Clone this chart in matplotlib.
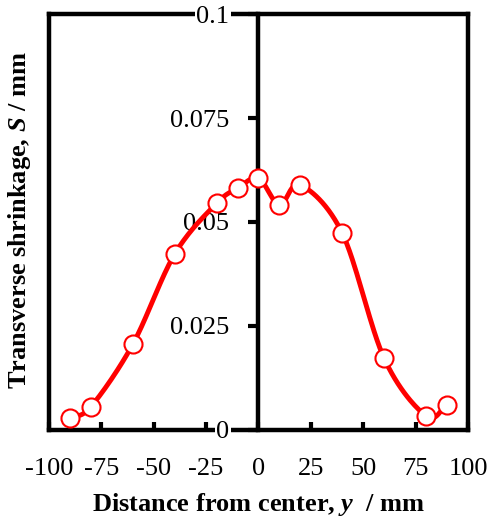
import numpy as np
import matplotlib
matplotlib.use("Agg")
import matplotlib.pyplot as plt
from matplotlib.ticker import MultipleLocator, FuncFormatter

plt.rcParams['font.family'] = 'Liberation Serif'
plt.rcParams['axes.unicode_minus'] = False
plt.rcParams['mathtext.fontset'] = 'custom'
plt.rcParams['mathtext.it'] = 'Liberation Serif:bold:italic'
plt.rcParams['mathtext.rm'] = 'Liberation Serif:bold'

# data
dist = [-90, -80, -60, -40, -20, -10, 0, 10, 20, 40, 60, 80, 90]
shrink = [0.0029, 0.0056, 0.0206, 0.0423, 0.0545, 0.0581, 0.0605,
          0.0541, 0.0589, 0.0473, 0.0172, 0.0034, 0.0060]


def smooth(x, y, n=30):
    # Catmull-Rom through the points, like a spreadsheet "smoothed line"
    x = np.asarray(x, float)
    y = np.asarray(y, float)
    px = np.concatenate([[2 * x[0] - x[1]], x, [2 * x[-1] - x[-2]]])
    py = np.concatenate([[2 * y[0] - y[1]], y, [2 * y[-1] - y[-2]]])
    t = np.linspace(0, 1, n)
    xs, ys = [], []
    for i in range(1, len(px) - 2):
        for p, out in ((px, xs), (py, ys)):
            p0, p1, p2, p3 = p[i - 1], p[i], p[i + 1], p[i + 2]
            out.append(0.5 * (2 * p1 + (-p0 + p2) * t
                              + (2 * p0 - 5 * p1 + 4 * p2 - p3) * t ** 2
                              + (-p0 + 3 * p1 - 3 * p2 + p3) * t ** 3))
    return np.concatenate(xs), np.concatenate(ys)


fig = plt.figure(figsize=(4.91, 5.21), dpi=100)
ax = fig.add_axes([0.0998, 0.1747, 0.8533, 0.7984])

sx, sy = smooth(dist, shrink)
ax.plot(sx, sy, color='red', lw=3.5, zorder=4, solid_capstyle='round')
ax.plot(dist, shrink, 'o', ms=13, mfc='white', mec='red', mew=1.5,
        zorder=5, clip_on=False)

ax.set_xlim(-100, 100)
ax.set_ylim(0, 0.1)

for s in ax.spines.values():
    s.set_linewidth(3.2)
ax.spines['left'].set_position(('data', 0))
ax.axvline(-100, color='black', lw=3.2, zorder=2.5, clip_on=False)

ax.xaxis.set_major_locator(MultipleLocator(25))
ax.yaxis.set_major_locator(MultipleLocator(0.025))
ax.yaxis.set_major_formatter(FuncFormatter(lambda v, p: '%g' % round(v, 3)))
ax.tick_params(axis='x', direction='in', length=6, width=3, labelsize=19, pad=20)
ax.tick_params(axis='y', direction='out', length=7, width=3, labelsize=19, pad=14)
ax.yaxis.set_zorder(3)
for lab in ax.get_yticklabels():
    lab.set_bbox(dict(facecolor='white', edgecolor='none', pad=1))

ax.set_xlabel('Distance from center, $y$  / mm', fontsize=19,
              fontweight='bold', labelpad=8)
fig.text(0.04, 0.578, 'Transverse shrinkage, $S$ / mm', fontsize=19,
         fontweight='bold', rotation=90, ha='center', va='center')

fig.savefig('out.png', dpi=100)
